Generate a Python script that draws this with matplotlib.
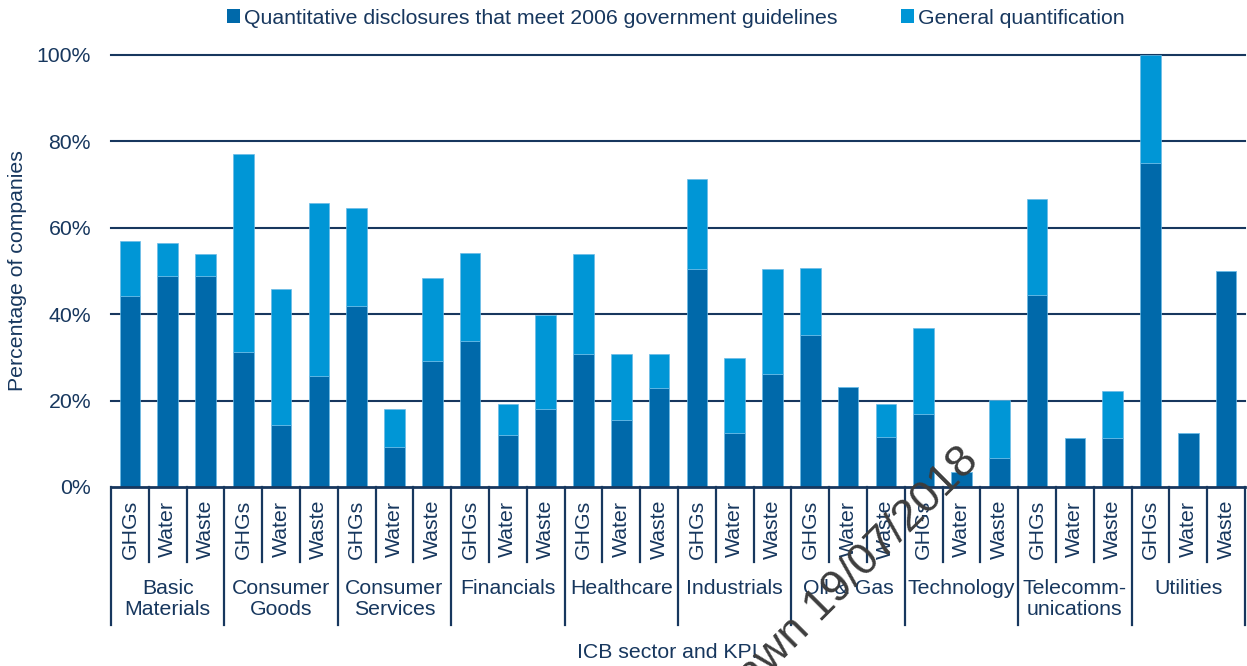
import matplotlib
matplotlib.use("Agg")
import matplotlib.pyplot as plt
from matplotlib.patches import Patch
import numpy as np

plt.rcParams['font.family'] = ['Liberation Sans', 'DejaVu Sans']

sectors = ["Basic\nMaterials", "Consumer\nGoods", "Consumer\nServices", "Financials",
           "Healthcare", "Industrials", "Oil & Gas", "Technology",
           "Telecomm-\nunications", "Utilities"]
kpis = ["GHGs", "Water", "Waste"]

# Share of companies meeting the 2006 guidelines (%), per sector x KPI
guideline = [44.1, 48.8, 48.8,
             31.3, 14.3, 25.8,
             42.0, 9.2, 29.2,
             33.7, 12.1, 18.1,
             30.9, 15.4, 23.0,
             50.4, 12.6, 26.2,
             35.1, 23.1, 11.6,
             16.8, 3.4, 6.8,
             44.4, 11.3, 11.3,
             75.0, 12.6, 50.0]
# Total share with any quantification (%), per sector x KPI
total = [57.0, 56.4, 53.9,
         77.1, 45.8, 65.7,
         64.5, 18.1, 48.4,
         54.2, 19.3, 39.8,
         53.9, 30.9, 30.9,
         71.2, 29.8, 50.5,
         50.7, 23.1, 19.3,
         36.7, 3.4, 20.1,
         66.7, 11.3, 22.3,
         100.0, 12.6, 50.0]
general = [t - g for t, g in zip(total, guideline)]

legend_labels = ["Quantitative disclosures that meet 2006 government guidelines",
                 "General quantification"]
yticks = [0, 20, 40, 60, 80, 100]

DARK = "#0069AA"
LIGHT = "#0096D6"
EDGE = "#6cbbe6"
NAVY = "#17375E"
FS = 15.3

W, H = 1247, 666
fig = plt.figure(figsize=(W / 100, H / 100), dpi=100)
ax = fig.add_axes([111 / W, 1 - 487 / H, (1245 - 111) / W, (487 - 55) / H])

x = np.arange(len(guideline))
ax.bar(x, guideline, width=0.55, color=DARK, edgecolor=EDGE, linewidth=0.5, zorder=3)
ax.bar(x, general, bottom=guideline, width=0.55, color=LIGHT, edgecolor=EDGE,
       linewidth=0.5, zorder=3)

ax.set_xlim(-0.5, len(guideline) - 0.5)
ax.set_ylim(0, 100)
for v in yticks[1:]:
    ax.axhline(v, color=NAVY, lw=1.5, zorder=1, clip_on=False)
ax.set_yticks(yticks)
ax.set_yticklabels([f"{v}%" for v in yticks], color=NAVY, fontsize=FS)
ax.tick_params(axis='y', length=0, pad=14.4)
ax.set_xticks([])
for s in ["top", "right", "left"]:
    ax.spines[s].set_visible(False)
ax.spines["bottom"].set_color(NAVY)
ax.spines["bottom"].set_linewidth(2)
ax.spines["bottom"].set_zorder(4)

axh = 487 - 55
trans = ax.get_xaxis_transform()
# separators between KPIs and between sectors
for i in range(len(guideline) + 1):
    xb = i - 0.5
    depth = 138 if i % 3 == 0 else 75
    ax.plot([xb, xb], [0, -depth / axh], transform=trans, color=NAVY,
            lw=1.6, clip_on=False, zorder=4)

# KPI labels
for i in range(len(guideline)):
    ax.text(i, -(529 - 487) / axh, kpis[i % 3], rotation=90, ha='center',
            va='center', fontsize=FS, color=NAVY, transform=trans)

# sector labels
for j, s in enumerate(sectors):
    ax.text(3 * j + 1, -(579 - 487) / axh, s, ha='center', va='top',
            fontsize=FS, color=NAVY, transform=trans, linespacing=1.12)

fig.text(667 / W, 1 - 653 / H, "ICB sector and KPI", ha='center', va='center',
         fontsize=FS, color=NAVY)
fig.text(18 / W, 1 - 271 / H, "Percentage of companies", rotation=90,
         ha='center', va='center', fontsize=FS, color=NAVY)

handles = [Patch(facecolor=DARK, edgecolor='none'),
           Patch(facecolor=LIGHT, edgecolor='none')]
fig.legend(handles, legend_labels, loc='center', bbox_to_anchor=(676 / W, 1 - 18 / H),
           ncol=2, frameon=False, fontsize=FS, labelcolor=NAVY,
           handlelength=0.6, handleheight=0.6, handletextpad=0.2,
           columnspacing=3.0, borderpad=0, borderaxespad=0)

# stamp across the chart
fig.text(980 / W, 1 - 463 / H, "Withdrawn 19/07/2018", rotation=45,
         rotation_mode='anchor', ha='right', va='baseline', fontsize=32.6,
         color="#3d3d3d", zorder=10)

fig.savefig("out.png", dpi=100)
